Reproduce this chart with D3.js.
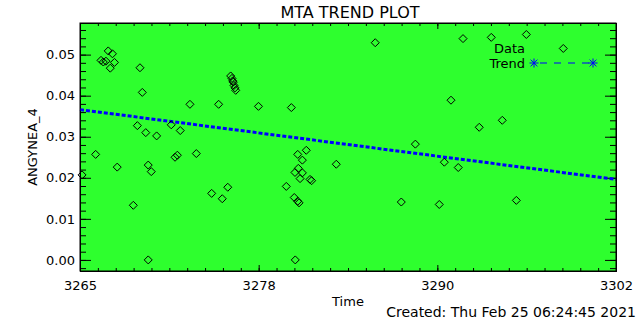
<!DOCTYPE html>
<html lang="en">
<head>
    <meta charset="utf-8">
    <title>MTA Trend Plot</title>
    <script src="https://cdn.jsdelivr.net/npm/d3@7"></script>
    <style>
        body { margin: 0; background: #fff; }
        text { font-family: "DejaVu Sans", sans-serif; fill: #000; }
    </style>
</head>
<body>
<script>
    // data
    var timeVals = [3266.45, 3266.61, 3266.79, 3266.95, 3267.24, 3267.38, 3267.09, 3266.08, 3267.57, 3265.14,
                    3268.68, 3269.14, 3269.30, 3268.96, 3269.54, 3269.71, 3269.92, 3269.71, 3270.29, 3271.30,
                    3271.56, 3271.72, 3271.92, 3272.59, 3273.03, 3274.09, 3274.57, 3274.82, 3275.20, 3275.40,
                    3275.49, 3275.54, 3275.58, 3275.63, 3275.70, 3275.75, 3277.32, 3279.24, 3279.59, 3279.79,
                    3279.84, 3279.86, 3280.03, 3280.03, 3280.12, 3280.07, 3280.19, 3280.35, 3280.35, 3280.62,
                    3280.88, 3280.99, 3282.69, 3285.38, 3287.18, 3288.15, 3289.80, 3290.15, 3290.61, 3291.11,
                    3291.44, 3292.56, 3293.39, 3294.15, 3295.12, 3295.81, 3298.36];
    var angVals  = [0.0486, 0.0482, 0.0484, 0.0509, 0.0502, 0.0481, 0.0467, 0.0257, 0.0226, 0.0207,
                    0.0133, 0.0468, 0.0408, 0.0327, 0.0310, 0.0231, 0.0215, 0.0000, 0.0302, 0.0329,
                    0.0250, 0.0255, 0.0315, 0.0379, 0.0259, 0.0162, 0.0379, 0.0149, 0.0177, 0.0448,
                    0.0442, 0.0436, 0.0433, 0.0425, 0.0419, 0.0413, 0.0374, 0.0179, 0.0371, 0.0152,
                    0.0213, 0.0000, 0.0257, 0.0143, 0.0139, 0.0223, 0.0198, 0.0243, 0.0212, 0.0267,
                    0.0196, 0.0193, 0.0233, 0.0529, 0.0141, 0.0282, 0.0135, 0.0238, 0.0389, 0.0225,
                    0.0539, 0.0323, 0.0542, 0.0340, 0.0145, 0.0549, 0.0515];
    var trendX = [3265, 3302];
    var trendY = [0.0366, 0.0196];
    var xTickLabels = ["3265", "3278", "3290", "3302"];
    var yTickVals = [0, 0.01, 0.02, 0.03, 0.04, 0.05];

    var width = 640, height = 320;
    var plotL = 80, plotR = 616, plotT = 23, plotB = 271;
    var xMin = 3265, xMax = 3302;

    var svg = d3.select("body").append("svg")
        .attr("width", width)
        .attr("height", height);

    var x = d3.scaleLinear().domain([xMin, xMax]).range([plotL, plotR]);
    var y = d3.scaleLinear().domain([-0.0027, 0.0577]).range([plotB, plotT]);

    svg.append("rect")
        .attr("x", plotL).attr("y", plotT)
        .attr("width", plotR - plotL).attr("height", plotB - plotT)
        .attr("fill", "#2eff2e");

    var xMajor = d3.range(4).map(function(i) { return xMin + i * (xMax - xMin) / 3; });
    var xMinor = d3.range(31).map(function(i) { return xMin + i * (xMax - xMin) / 30; });
    var yMinor = d3.range(-1, 29).map(function(i) { return i * 0.002; });

    function axisStyle(g) {
        g.selectAll("path.domain").attr("stroke", "#000");
        g.selectAll("line").attr("stroke", "#000");
        g.selectAll("text").attr("font-size", 13).attr("font-family", "DejaVu Sans, sans-serif");
    }

    // minor ticks
    svg.append("g").attr("transform", "translate(0," + plotB + ")")
        .call(d3.axisBottom(x).tickValues(xMinor).tickSize(-3).tickFormat(""))
        .call(axisStyle);
    svg.append("g").attr("transform", "translate(0," + plotT + ")")
        .call(d3.axisTop(x).tickValues(xMinor).tickSize(-3).tickFormat(""))
        .call(axisStyle);
    svg.append("g").attr("transform", "translate(" + plotL + ",0)")
        .call(d3.axisLeft(y).tickValues(yMinor).tickSize(-6).tickFormat(""))
        .call(axisStyle);
    svg.append("g").attr("transform", "translate(" + plotR + ",0)")
        .call(d3.axisRight(y).tickValues(yMinor).tickSize(-6).tickFormat(""))
        .call(axisStyle);

    // major ticks
    svg.append("g").attr("transform", "translate(0," + plotB + ")")
        .call(d3.axisBottom(x).tickValues(xMajor).tickSize(-6).tickSizeOuter(0).tickPadding(10)
            .tickFormat(function(d, i) { return xTickLabels[i]; }))
        .call(axisStyle);
    svg.append("g").attr("transform", "translate(0," + plotT + ")")
        .call(d3.axisTop(x).tickValues(xMajor).tickSize(-6).tickSizeOuter(0).tickFormat(""))
        .call(axisStyle);
    svg.append("g").attr("transform", "translate(" + plotL + ",0)")
        .call(d3.axisLeft(y).tickValues(yTickVals).tickSize(-11).tickSizeOuter(0).tickPadding(5)
            .tickFormat(d3.format(".2f")))
        .call(axisStyle);
    svg.append("g").attr("transform", "translate(" + plotR + ",0)")
        .call(d3.axisRight(y).tickValues(yTickVals).tickSize(-11).tickSizeOuter(0).tickFormat(""))
        .call(axisStyle);

    // trend line
    svg.append("path")
        .datum(d3.zip(trendX, trendY))
        .attr("d", d3.line().x(function(d) { return x(d[0]); }).y(function(d) { return y(d[1]); }))
        .attr("fill", "none")
        .attr("stroke", "#0000ff")
        .attr("stroke-width", 3)
        .attr("stroke-dasharray", "4,2");

    // data diamonds
    var r = 4;
    svg.append("g").selectAll("path")
        .data(d3.zip(timeVals, angVals))
        .enter().append("path")
        .attr("d", function(d) {
            var cx = x(d[0]), cy = y(d[1]);
            return "M" + cx + "," + (cy - r) + "L" + (cx + r) + "," + cy +
                   "L" + cx + "," + (cy + r) + "L" + (cx - r) + "," + cy + "Z";
        })
        .attr("fill", "none")
        .attr("stroke", "#000")
        .attr("stroke-width", 1);

    // frame
    svg.append("rect")
        .attr("x", plotL).attr("y", plotT)
        .attr("width", plotR - plotL).attr("height", plotB - plotT)
        .attr("fill", "none").attr("stroke", "#000");

    // legend
    svg.append("text").attr("x", 525).attr("y", 53).attr("text-anchor", "end")
        .attr("font-size", 13).text("Data");
    svg.append("text").attr("x", 525).attr("y", 68).attr("text-anchor", "end")
        .attr("font-size", 13).text("Trend");
    svg.append("line")
        .attr("x1", 534).attr("x2", 593).attr("y1", 63).attr("y2", 63)
        .attr("stroke", "#0000ff").attr("stroke-dasharray", "7,7").attr("stroke-dashoffset", -6);
    [534, 593].forEach(function(cx) {
        var s = 4.5, g = svg.append("g").attr("stroke", "#0000ff").attr("stroke-width", 1);
        g.append("line").attr("x1", cx - s).attr("x2", cx + s).attr("y1", 63).attr("y2", 63);
        g.append("line").attr("x1", cx).attr("x2", cx).attr("y1", 63 - s).attr("y2", 63 + s);
        g.append("line").attr("x1", cx - s * 0.75).attr("x2", cx + s * 0.75).attr("y1", 63 - s * 0.75).attr("y2", 63 + s * 0.75);
        g.append("line").attr("x1", cx - s * 0.75).attr("x2", cx + s * 0.75).attr("y1", 63 + s * 0.75).attr("y2", 63 - s * 0.75);
    });

    // titles
    svg.append("text").attr("x", 350).attr("y", 18).attr("text-anchor", "middle")
        .attr("font-size", 16).text("MTA TREND PLOT");
    svg.append("text").attr("x", 348).attr("y", 306).attr("text-anchor", "middle")
        .attr("font-size", 13).text("Time");
    svg.append("text").attr("transform", "translate(37,147) rotate(-90)").attr("text-anchor", "middle")
        .attr("font-size", 13).text("ANGYNEA_4");
    svg.append("text").attr("x", 636).attr("y", 317).attr("text-anchor", "end")
        .attr("font-size", 14).text("Created: Thu Feb 25 06:24:45 2021");
</script>
</body>
</html>
